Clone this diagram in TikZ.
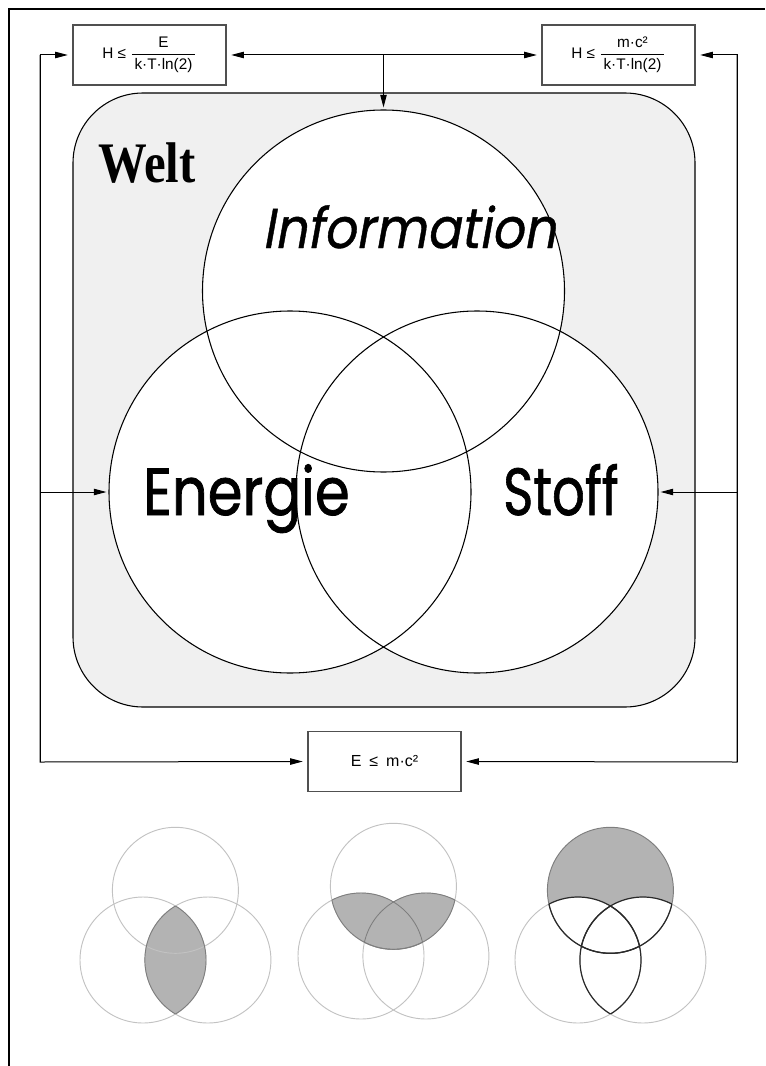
\documentclass[tikz,border=0pt]{standalone}
\usepackage{fontspec}
\setmainfont{Liberation Sans}
\newfontfamily\weltfont{Liberation Serif}
\newfontfamily\gfont{Poppins}[FakeBold=1.2]
\newfontfamily\gslant{Poppins}[FakeSlant=0.2,FakeBold=0.8]
\usetikzlibrary{arrows.meta}
\definecolor{weltbg}{HTML}{F0F0F0}
\definecolor{shadegray}{HTML}{B3B3B3}
\definecolor{lightline}{HTML}{C2C2C2}
\definecolor{midline}{HTML}{7E7E7E}
\definecolor{darkline}{HTML}{2A2A2A}
\definecolor{boxline}{HTML}{505050}
\begin{document}
\begin{tikzpicture}[x=0.75pt,y=-0.75pt,
  conn/.style={line width=0.75pt, -{Triangle[length=9.5pt,width=4.8pt]}},
  toBox/.style={conn, shorten >=3.5pt},
  toCirc/.style={conn, shorten >=1.5pt},
  formbox/.style={draw=boxline, line width=0.8pt, minimum width=114.75pt, minimum height=45pt, inner sep=0pt, font=\fontsize{11.5}{13}\selectfont},
  bigcirc/.style={circle, draw, line width=0.8pt, minimum size=271.5pt, inner sep=0pt},
  bigword/.style={anchor=base west, inner sep=0pt},
  lightc/.style={draw=lightline, line width=0.7pt},
  midc/.style={draw=midline, line width=0.7pt},
  darkc/.style={draw=darkline, line width=0.9pt}]
\useasboundingbox (0,0) rectangle (765,1066);
% page frame
\draw[line width=1.5pt] (9,1066) -- (9,9) -- (765,9);
% world box
\draw[fill=weltbg, line width=0.8pt, rounded corners=52.5pt] (73,93) rectangle (695,707);
% circles
\fill[white] (383.5,291) circle [radius=181];
\fill[white] (290,492) circle [radius=181];
\fill[white] (477,492) circle [radius=181];
\node[bigcirc] (I) at (383.5,291) {};
\node[bigcirc] (E) at (290,492) {};
\node[bigcirc] (S) at (477,492) {};
% labels
\node[bigword, font=\weltfont\bfseries\fontsize{43}{50}\selectfont, xscale=0.85] (welt) at (98,183) {Welt};
\node[bigword, font=\gslant\fontsize{42}{48}\selectfont, xscale=0.9] (info) at (262,248) {Information};
\node[bigword, font=\gfont\fontsize{50}{56}\selectfont, xscale=0.84] (energie) at (143,515) {Energie};
\node[bigword, font=\gfont\fontsize{50}{56}\selectfont, xscale=0.77] (stoff) at (503,515) {Stoff};
% formula boxes
\node[formbox] (H1) at (149.5,55) {H ≤ $\displaystyle\frac{\mbox{E}}{\mbox{\,k·T·ln(2)\,}}$};
\node[formbox] (H2) at (618.5,55) {H ≤ $\displaystyle\frac{\mbox{m·c²}}{\mbox{\,k·T·ln(2)\,}}$};
\node[formbox, font=\fontsize{12}{14}\selectfont] (B) at (384.5,761.5) {E\enspace≤\enspace m·c²};
% junctions
\coordinate (Lt) at (40,55);
\coordinate (Lm) at (40,492);
\coordinate (Lb) at (40,762);
\coordinate (Rt) at (737,55);
\coordinate (Rm) at (737,492);
\coordinate (Rb) at (737,762);
\coordinate (Tm) at (383.5,55);
% connectors
\draw[toBox] (Lb) -- (Lt) -- (H1.west);
\draw[toBox] (Lt) -- (Lb) -- (B.west);
\draw[toCirc] (Lm) -- (E.west);
\draw[toBox] (Tm) -- (H1.east);
\draw[toBox] (Tm) -- (H2.west);
\draw[toCirc] (Tm) -- (I.north);
\draw[toBox] (Rb) -- (Rt) -- (H2.east);
\draw[toBox] (Rt) -- (Rb) -- (B.east);
\draw[toCirc] (Rm) -- (S.east);
% ---- small diagram 1 : Energie and Stoff
\def\eT{(175.4,890.3) circle [radius=63]}
\def\eL{(143,960) circle [radius=63]}
\def\eR{(207.9,960) circle [radius=63]}
\begin{scope}\clip \eL; \fill[shadegray] \eR;\end{scope}
\draw[lightc] \eT; \draw[lightc] \eL; \draw[lightc] \eR;
\begin{scope}\clip \eL; \draw[midc] \eR;\end{scope}
\begin{scope}\clip \eR; \draw[midc] \eL;\end{scope}
% ---- small diagram 2 : Information and (Energie or Stoff)
\def\eT{(393.4,886.3) circle [radius=63]}
\def\eL{(361,956) circle [radius=63]}
\def\eR{(425.9,956) circle [radius=63]}
\begin{scope}\clip \eT; \fill[shadegray] \eL; \fill[shadegray] \eR;\end{scope}
\draw[lightc] \eT; \draw[lightc] \eL; \draw[lightc] \eR;
\begin{scope}\clip \eT; \draw[midc] \eL; \draw[midc] \eR;\end{scope}
\begin{scope}\clip \eL; \draw[midc] \eT;\end{scope}
\begin{scope}\clip \eR; \draw[midc] \eT;\end{scope}
% ---- small diagram 3 : Information only
\def\eT{(610.4,890.3) circle [radius=63]}
\def\eL{(578,960) circle [radius=63]}
\def\eR{(642.9,960) circle [radius=63]}
\fill[shadegray] \eT;
\begin{scope}\clip \eT; \fill[white] \eL; \fill[white] \eR;\end{scope}
\draw[lightc] \eL; \draw[lightc] \eR; \draw[midc] \eT;
\begin{scope}\clip \eT; \draw[darkc] \eL; \draw[darkc] \eR;\end{scope}
\begin{scope}\clip \eL; \draw[darkc] \eT; \draw[darkc] \eR;\end{scope}
\begin{scope}\clip \eR; \draw[darkc] \eT; \draw[darkc] \eL;\end{scope}
\end{tikzpicture}
\end{document}
